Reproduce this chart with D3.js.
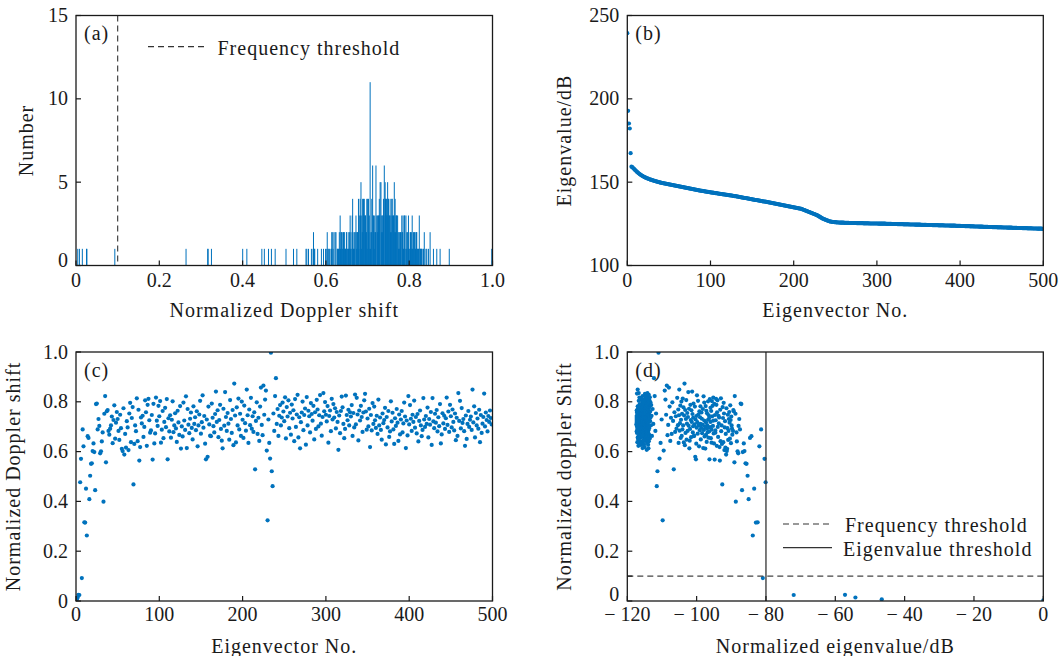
<!DOCTYPE html>
<html>
<head>
<meta charset="utf-8">
<script src="https://cdn.jsdelivr.net/npm/d3@7"></script>
<style>
  body { margin: 0; background: #fff; }
  svg text { font-family: "Liberation Serif", "Times New Roman", serif; fill: #1a1a1a; }
</style>
</head>
<body>
<div id="chart"></div>
<script>
// Eigenvalue (dB) of each eigenvector
const eigenvalues = [
  239.4,192.8,185.2,182.2,167.4,159.3,159.0,158.5,158.0,157.5,
  157.0,156.5,156.0,155.6,155.2,154.8,154.4,154.1,153.8,153.5,
  153.2,153.0,152.7,152.5,152.3,152.1,151.9,151.7,151.5,151.4,
  151.2,151.0,150.9,150.7,150.6,150.4,150.3,150.1,150.0,149.9,
  149.7,149.6,149.5,149.4,149.3,149.2,149.1,149.0,148.9,148.8,
  148.7,148.6,148.5,148.4,148.3,148.2,148.1,148.0,147.9,147.8,
  147.7,147.6,147.5,147.4,147.3,147.2,147.1,147.0,146.9,146.8,
  146.7,146.6,146.5,146.4,146.3,146.2,146.1,146.0,145.9,145.8,
  145.7,145.6,145.5,145.4,145.3,145.2,145.1,145.0,144.9,144.8,
  144.8,144.7,144.6,144.5,144.4,144.3,144.2,144.2,144.1,144.0,
  143.9,143.8,143.7,143.7,143.6,143.5,143.4,143.4,143.3,143.2,
  143.1,143.0,143.0,142.9,142.8,142.7,142.7,142.6,142.5,142.4,
  142.4,142.3,142.2,142.1,142.1,142.0,141.9,141.8,141.7,141.6,
  141.6,141.5,141.4,141.3,141.2,141.1,141.0,140.9,140.8,140.7,
  140.6,140.5,140.5,140.4,140.3,140.2,140.1,140.0,139.9,139.8,
  139.7,139.6,139.5,139.4,139.3,139.3,139.2,139.1,139.0,138.9,
  138.8,138.7,138.6,138.5,138.4,138.4,138.3,138.2,138.1,138.0,
  137.9,137.8,137.7,137.6,137.5,137.4,137.3,137.2,137.1,137.0,
  136.9,136.8,136.7,136.6,136.5,136.4,136.3,136.2,136.1,136.0,
  135.9,135.8,135.7,135.6,135.5,135.4,135.3,135.2,135.1,135.0,
  134.9,134.8,134.7,134.6,134.5,134.4,134.3,134.2,134.1,134.0,
  133.8,133.6,133.4,133.2,133.0,132.8,132.6,132.4,132.2,132.0,
  131.8,131.6,131.4,131.2,131.0,130.8,130.6,130.4,130.2,129.9,
  129.6,129.3,129.0,128.7,128.4,128.1,127.9,127.7,127.5,127.3,
  127.1,126.9,126.7,126.5,126.4,126.3,126.2,126.1,126.1,126.0,
  126.0,125.9,125.9,125.8,125.8,125.8,125.7,125.7,125.7,125.7,
  125.7,125.6,125.6,125.6,125.6,125.6,125.6,125.5,125.5,125.5,
  125.5,125.5,125.5,125.5,125.5,125.5,125.4,125.4,125.4,125.4,
  125.4,125.4,125.4,125.4,125.3,125.3,125.3,125.3,125.3,125.3,
  125.3,125.2,125.2,125.2,125.2,125.2,125.2,125.2,125.2,125.2,
  125.2,125.2,125.1,125.1,125.1,125.1,125.1,125.1,125.1,125.1,
  125.1,125.0,125.0,125.0,125.0,125.0,125.0,125.0,124.9,124.9,
  124.9,124.9,124.9,124.9,124.9,124.8,124.8,124.8,124.8,124.8,
  124.8,124.8,124.7,124.7,124.7,124.7,124.7,124.7,124.7,124.6,
  124.6,124.6,124.6,124.6,124.6,124.6,124.5,124.5,124.5,124.5,
  124.5,124.5,124.5,124.4,124.4,124.4,124.4,124.4,124.4,124.4,
  124.3,124.3,124.3,124.3,124.3,124.3,124.3,124.2,124.2,124.2,
  124.2,124.2,124.2,124.2,124.1,124.1,124.1,124.1,124.1,124.1,
  124.1,124.0,124.0,124.0,124.0,124.0,124.0,124.0,123.9,123.9,
  123.9,123.9,123.9,123.9,123.9,123.8,123.8,123.8,123.8,123.8,
  123.8,123.7,123.7,123.7,123.7,123.7,123.6,123.6,123.6,123.6,
  123.6,123.6,123.5,123.5,123.5,123.5,123.5,123.4,123.4,123.4,
  123.4,123.4,123.4,123.3,123.3,123.3,123.3,123.3,123.2,123.2,
  123.2,123.2,123.2,123.2,123.1,123.1,123.1,123.1,123.1,123.0,
  123.0,123.0,123.0,123.0,123.0,122.9,122.9,122.9,122.9,122.9,
  122.9,122.8,122.8,122.8,122.8,122.8,122.8,122.7,122.7,122.7,
  122.7,122.7,122.7,122.6,122.6,122.6,122.6,122.6,122.6,122.5,
  122.5,122.5,122.5,122.5,122.5,122.4,122.4,122.4,122.4,122.4,
  122.4,122.3,122.3,122.3,122.3,122.3,122.3,122.2,122.2,122.2,
  122.2,122.2,122.2,122.1,122.1,122.1,122.1,122.1,122.1,122.0
];

// Normalized Doppler shift of each eigenvector
const dopplerShift = [
  0.003,0.007,0.014,0.025,0.024,0.477,0.571,0.092,0.689,0.621,
  0.316,0.315,0.451,0.263,0.662,0.655,0.409,0.503,0.551,0.553,
  0.602,0.633,0.598,0.445,0.791,0.793,0.689,0.731,0.703,0.593,
  0.601,0.641,0.677,0.399,0.752,0.823,0.557,0.762,0.767,0.683,
  0.668,0.692,0.705,0.741,0.634,0.727,0.786,0.652,0.716,0.759,
  0.731,0.683,0.647,0.748,0.694,0.611,0.602,0.774,0.588,0.671,
  0.616,0.722,0.697,0.606,0.753,0.796,0.638,0.735,0.779,0.468,
  0.631,0.705,0.682,0.814,0.642,0.768,0.564,0.618,0.737,0.713,
  0.744,0.659,0.699,0.806,0.758,0.623,0.788,0.812,0.726,0.676,
  0.685,0.747,0.568,0.792,0.633,0.673,0.817,0.724,0.703,0.784,
  0.742,0.803,0.636,0.688,0.763,0.654,0.719,0.776,0.698,0.811,
  0.569,0.734,0.681,0.746,0.656,0.728,0.802,0.678,0.705,0.754,
  0.693,0.639,0.764,0.717,0.667,0.783,0.612,0.701,0.661,0.797,
  0.725,0.687,0.822,0.614,0.771,0.708,0.674,0.732,0.757,0.695,
  0.649,0.782,0.711,0.738,0.686,0.762,0.621,0.705,0.749,0.804,
  0.672,0.718,0.826,0.696,0.743,0.632,0.569,0.729,0.579,0.781,
  0.709,0.664,0.662,0.793,0.736,0.702,0.677,0.751,0.841,0.719,
  0.766,0.658,0.727,0.788,0.691,0.644,0.613,0.772,0.704,0.839,
  0.739,0.683,0.755,0.712,0.648,0.807,0.731,0.675,0.767,0.626,
  0.873,0.745,0.637,0.778,0.705,0.813,0.689,0.752,0.663,0.801,
  0.728,0.655,0.785,0.714,0.684,0.849,0.746,0.635,0.769,0.706,
  0.816,0.692,0.742,0.679,0.758,0.529,0.723,0.798,0.671,0.736,
  0.643,0.781,0.857,0.707,0.666,0.865,0.748,0.809,0.845,0.604,
  0.324,0.729,0.635,0.572,0.997,0.521,0.461,0.753,0.683,0.823,
  0.895,0.711,0.771,0.663,0.744,0.787,0.705,0.737,0.797,0.761,
  0.722,0.818,0.653,0.779,0.741,0.806,0.694,0.756,0.668,0.789,
  0.733,0.766,0.642,0.811,0.699,0.749,0.828,0.657,0.738,0.613,
  0.718,0.757,0.801,0.686,0.747,0.773,0.628,0.819,0.705,0.764,
  0.742,0.677,0.795,0.751,0.724,0.784,0.649,0.758,0.691,0.808,
  0.769,0.701,0.746,0.827,0.712,0.664,0.739,0.835,0.762,0.799,
  0.748,0.721,0.783,0.636,0.743,0.765,0.682,0.812,0.729,0.791,
  0.737,0.774,0.693,0.759,0.719,0.607,0.745,0.674,0.763,0.821,
  0.778,0.711,0.654,0.691,0.825,0.747,0.726,0.768,0.705,0.758,
  0.741,0.787,0.663,0.755,0.697,0.829,0.709,0.816,0.749,0.645,
  0.765,0.725,0.784,0.739,0.679,0.757,0.806,0.832,0.761,0.688,
  0.733,0.701,0.772,0.618,0.747,0.685,0.795,0.711,0.781,0.726,
  0.695,0.744,0.671,0.809,0.705,0.737,0.687,0.648,0.753,0.714,
  0.727,0.776,0.629,0.739,0.697,0.763,0.659,0.681,0.802,0.721,
  0.756,0.689,0.631,0.734,0.703,0.771,0.716,0.643,0.749,0.669,
  0.729,0.763,0.677,0.713,0.797,0.741,0.614,0.725,0.665,0.823,
  0.709,0.787,0.732,0.683,0.748,0.719,0.805,0.696,0.739,0.673,
  0.751,0.641,0.723,0.765,0.705,0.662,0.687,0.815,0.729,0.699,
  0.743,0.711,0.777,0.657,0.731,0.708,0.759,0.627,0.815,0.721,
  0.694,0.752,0.716,0.767,0.681,0.738,0.702,0.791,0.633,0.669,
  0.754,0.713,0.744,0.691,0.734,0.817,0.707,0.761,0.679,0.788,
  0.742,0.697,0.769,0.719,0.685,0.753,0.646,0.736,0.663,0.835,
  0.723,0.804,0.693,0.775,0.715,0.731,0.682,0.623,0.745,0.651,
  0.711,0.763,0.699,0.728,0.741,0.687,0.849,0.717,0.782,0.657,
  0.755,0.705,0.733,0.692,0.768,0.638,0.747,0.675,0.712,0.739,
  0.833,0.701,0.757,0.727,0.681,0.743,0.719,0.765,0.735,0.709
];

const frequencyThreshold = 0.1;
const eigenvalueThreshold = -80;
const histBinWidth = 0.001;

// Tick values
const shiftTicks = [0, 0.2, 0.4, 0.6, 0.8, 1.0];
const countTicks = [0, 5, 10, 15];
const indexTicks = [0, 100, 200, 300, 400, 500];
const eigTicks = [100, 150, 200, 250];
const normEigTicks = [-120, -100, -80, -60, -40, -20, 0];

const width = 1062, height = 656;
const blue = "#0072bd";
const axisColor = "#1a1a1a";

const svg = d3.select("#chart").append("svg")
    .attr("width", width)
    .attr("height", height);

// Plot areas
const panels = {
    a: { x0: 76, x1: 492.5, y0: 15.5, y1: 265.5 },
    b: { x0: 627.3, x1: 1043.3, y0: 15.5, y1: 265.5 },
    c: { x0: 76, x1: 492.5, y0: 352, y1: 601 },
    d: { x0: 627.3, x1: 1043.3, y0: 352, y1: 601 }
};

const fmtShift = d => d === 0 ? "0" : d3.format(".1f")(d);
const fmtNeg = d => d < 0 ? "\u2212 " + (-d) : String(d);

// Clip path per panel
Object.entries(panels).forEach(([k, p]) => {
    svg.append("clipPath").attr("id", "clip-" + k)
        .append("rect")
        .attr("x", p.x0).attr("y", p.y0)
        .attr("width", p.x1 - p.x0).attr("height", p.y1 - p.y0);
});

function drawAxes(p, x, y, opt) {
    const g = svg.append("g");
    // x ticks (inward)
    g.selectAll(".xt").data(opt.xTicks).enter().append("line")
        .attr("x1", d => x(d)).attr("x2", d => x(d))
        .attr("y1", p.y1).attr("y2", p.y1 - 5)
        .attr("stroke", axisColor).attr("stroke-width", 1.2);
    g.selectAll(".xl").data(opt.xTicks).enter().append("text")
        .attr("x", d => x(d))
        .attr("y", p.y1 + opt.xLabelOffset)
        .attr("text-anchor", "middle")
        .attr("font-size", 20)
        .text(opt.xFmt);
    // y ticks (inward)
    g.selectAll(".yt").data(opt.yTicksAll || opt.yTicks).enter().append("line")
        .attr("x1", p.x0).attr("x2", p.x0 + 5)
        .attr("y1", d => y(d)).attr("y2", d => y(d))
        .attr("stroke", axisColor).attr("stroke-width", 1.2);
    g.selectAll(".yl").data(opt.yTicks).enter().append("text")
        .attr("x", p.x0 - 8)
        .attr("y", d => y(d) + 6.6 - (d === 0 ? opt.zeroLift || 0 : 0))
        .attr("text-anchor", "end")
        .attr("font-size", 20)
        .text(opt.yFmt);
    // frame
    g.append("rect")
        .attr("x", p.x0).attr("y", p.y0)
        .attr("width", p.x1 - p.x0).attr("height", p.y1 - p.y0)
        .attr("fill", "none")
        .attr("stroke", axisColor).attr("stroke-width", 1.3);
    // axis titles
    g.append("text")
        .attr("x", (p.x0 + p.x1) / 2)
        .attr("y", p.y1 + 51.5)
        .attr("text-anchor", "middle")
        .attr("font-size", 20)
        .attr("letter-spacing", 1)
        .text(opt.xTitle);
    g.append("text")
        .attr("transform", `translate(${opt.yTitleX},${(p.y0 + p.y1) / 2}) rotate(-90)`)
        .attr("text-anchor", "middle")
        .attr("font-size", 20)
        .attr("letter-spacing", 1)
        .text(opt.yTitle);
    // panel label
    g.append("text")
        .attr("x", p.x0 + 8)
        .attr("y", p.y0 + 24.5)
        .attr("font-size", 20)
        .attr("letter-spacing", 1)
        .text(opt.label);
}

// ---------- (a) histogram ----------
{
    const p = panels.a;
    const x = d3.scaleLinear().domain([0, 1]).range([p.x0, p.x1]);
    const y = d3.scaleLinear().domain([0, 15]).range([p.y1, p.y0]);
    const nBins = Math.round(1 / histBinWidth);
    const bins = d3.bin()
        .domain([0, 1])
        .thresholds(d3.range(1, nBins).map(i => i / nBins))(dopplerShift)
        .filter(b => b.length > 0);

    svg.append("g").attr("clip-path", "url(#clip-a)")
        .selectAll("rect").data(bins).enter().append("rect")
        .attr("x", d => x(d.x0))
        .attr("width", d => Math.max(1, x(d.x1) - x(d.x0)))
        .attr("y", d => y(d.length))
        .attr("height", d => y(0) - y(d.length))
        .attr("fill", blue);

    svg.append("line")
        .attr("x1", x(frequencyThreshold)).attr("x2", x(frequencyThreshold))
        .attr("y1", p.y0).attr("y2", p.y1)
        .attr("stroke", "#444").attr("stroke-width", 1.2)
        .attr("stroke-dasharray", "6,4");

    // legend
    svg.append("line")
        .attr("x1", 148).attr("x2", 208).attr("y1", 46.7).attr("y2", 46.7)
        .attr("stroke", "#333").attr("stroke-width", 1.2)
        .attr("stroke-dasharray", "6,4");
    svg.append("text").attr("x", 217.5).attr("y", 55)
        .attr("font-size", 20).attr("letter-spacing", 1)
        .text("Frequency threshold");

    drawAxes(p, x, y, {
        xTicks: shiftTicks, xFmt: fmtShift, xLabelOffset: 21.8,
        yTicks: countTicks, yFmt: d => d, zeroLift: 5,
        xTitle: "Normalized Doppler shift", yTitle: "Number", yTitleX: 33,
        label: "(a)"
    });
}

// ---------- (b) eigenvalues ----------
{
    const p = panels.b;
    const x = d3.scaleLinear().domain([0, 500]).range([p.x0, p.x1]);
    const y = d3.scaleLinear().domain([100, 250]).range([p.y1, p.y0]);
    svg.append("g").attr("clip-path", "url(#clip-b)")
        .selectAll("circle").data(eigenvalues).enter().append("circle")
        .attr("cx", (d, i) => x(i))
        .attr("cy", d => y(d))
        .attr("r", 2.1)
        .attr("fill", blue);

    drawAxes(p, x, y, {
        xTicks: indexTicks, xFmt: d => d, xLabelOffset: 21.8,
        yTicks: eigTicks, yFmt: d => d,
        xTitle: "Eigenvector No.", yTitle: "Eigenvalue/dB", yTitleX: 571,
        label: "(b)"
    });
}

// ---------- (c) Doppler shift vs index ----------
{
    const p = panels.c;
    const x = d3.scaleLinear().domain([0, 500]).range([p.x0, p.x1]);
    const y = d3.scaleLinear().domain([0, 1]).range([p.y1, p.y0]);
    svg.append("g").attr("clip-path", "url(#clip-c)")
        .selectAll("circle").data(dopplerShift).enter().append("circle")
        .attr("cx", (d, i) => x(i))
        .attr("cy", d => y(d))
        .attr("r", 2.1)
        .attr("fill", blue);

    drawAxes(p, x, y, {
        xTicks: indexTicks, xFmt: d => d, xLabelOffset: 20,
        yTicks: shiftTicks, yFmt: fmtShift,
        xTitle: "Eigenvector No.", yTitle: "Normalized Doppler shift", yTitleX: 20,
        label: "(c)"
    });
}

// ---------- (d) Doppler shift vs normalized eigenvalue ----------
{
    const p = panels.d;
    const maxEig = d3.max(eigenvalues);
    const pts = eigenvalues.map((e, i) => ({ e: e - maxEig, f: dopplerShift[i] }));
    const x = d3.scaleLinear().domain([-120, 0]).range([p.x0, p.x1]);
    const y = d3.scaleLinear().domain([0, 1]).range([p.y1, p.y0]);

    svg.append("g").attr("clip-path", "url(#clip-d)")
        .selectAll("circle").data(pts).enter().append("circle")
        .attr("cx", d => x(d.e))
        .attr("cy", d => y(d.f))
        .attr("r", 2.1)
        .attr("fill", blue);

    svg.append("line")
        .attr("x1", p.x0).attr("x2", p.x1)
        .attr("y1", y(frequencyThreshold)).attr("y2", y(frequencyThreshold))
        .attr("stroke", "#444").attr("stroke-width", 1.2)
        .attr("stroke-dasharray", "6,4");
    svg.append("line")
        .attr("x1", x(eigenvalueThreshold)).attr("x2", x(eigenvalueThreshold))
        .attr("y1", p.y0).attr("y2", p.y1)
        .attr("stroke", "#333").attr("stroke-width", 1.3);

    // legend
    svg.append("line")
        .attr("x1", 783).attr("x2", 832).attr("y1", 524).attr("y2", 524)
        .attr("stroke", "#333").attr("stroke-width", 1.2)
        .attr("stroke-dasharray", "6,4");
    svg.append("text").attr("x", 845).attr("y", 532)
        .attr("font-size", 20).attr("letter-spacing", 1)
        .text("Frequency threshold");
    svg.append("line")
        .attr("x1", 783).attr("x2", 832).attr("y1", 547.7).attr("y2", 547.7)
        .attr("stroke", "#333").attr("stroke-width", 1.3);
    svg.append("text").attr("x", 843).attr("y", 555.5)
        .attr("font-size", 20).attr("letter-spacing", 1)
        .text("Eigenvalue threshold");

    drawAxes(p, x, y, {
        xTicks: normEigTicks, xFmt: fmtNeg, xLabelOffset: 20,
        yTicks: shiftTicks, yTicksAll: shiftTicks.concat([frequencyThreshold]),
        yFmt: fmtShift, zeroLift: 7,
        xTitle: "Normalized eigenvalue/dB", yTitle: "Normalized doppler Shift", yTitleX: 571,
        label: "(d)"
    });
}
</script>
</body>
</html>
